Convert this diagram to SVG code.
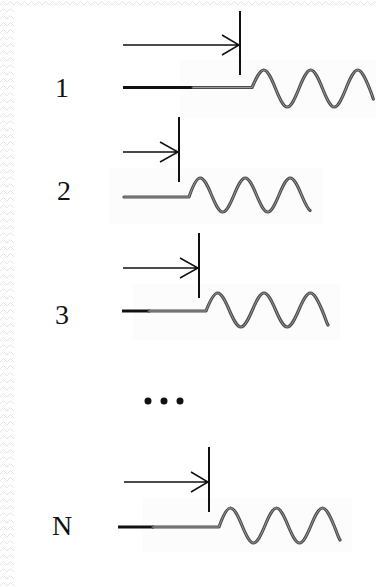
<svg xmlns="http://www.w3.org/2000/svg" width="376" height="587" viewBox="0 0 376 587">
<defs>
<style>
.lbl{font-family:"Liberation Serif","Times New Roman",serif;font-size:28px;fill:#111;text-anchor:middle}
.arr{stroke:#111;stroke-width:1.5;fill:none}
.tick{stroke:#111;stroke-width:2;fill:none}
.blk{stroke:#111;stroke-width:3;fill:none}
.go{stroke:#4d4d4d;stroke-width:3.2;fill:none;stroke-linecap:round;stroke-linejoin:round}
.gi{stroke:#9a9a9a;stroke-width:1;fill:none;stroke-linecap:round;stroke-linejoin:round}
.img{fill:#fcfcfc}
</style>
<pattern id="zz" width="7" height="7" patternUnits="userSpaceOnUse">
<path d="M0 5 L3.5 1.5 L7 5" stroke="#e4e4e4" stroke-width="1" fill="none"/>
</pattern>
<path id="w1" d="M193 87.5 H252 C255.91 78.81 259.84 70 263.75 70 S271.59 78.81 275.5 88.5 S283.34 107 287.25 107 S295.09 98.19 299 88.5 S306.84 70 310.75 70 S318.59 78.81 322.5 88.5 S330.34 107 334.25 107 S342.09 98.19 346 88.5 S353.84 70 357.75 70 S365.59 78.81 369.5 88.5 S372.3 96.5 373.3 99"/>
<path id="w2" d="M124 197 H189 C192.75 186.1 196.5 178 200.25 178 S207.75 186.1 211.5 195 S219 212 222.75 212 S230.25 203.9 234 195 S241.5 178 245.25 178 S252.75 186.1 256.5 195 S264 212 267.75 212 S275.25 203.9 279 195 S286.5 178 290.25 178 S297.75 186.1 301.5 195 S308 209 310 210.5"/>
<path id="w3" d="M149 311 H206 C209.87 301.1 213.73 293 217.6 293 S225.33 301.1 229.2 310 S236.93 327 240.8 327 S248.53 318.9 252.4 310 S260.13 293 264 293 S271.73 301.1 275.6 310 S283.33 327 287.2 327 S294.93 318.9 298.8 310 S306.53 293 310.4 293 S318.13 301.1 322 310 S326.5 323 328 325"/>
<path id="w4" d="M153 527 H219 C222.83 516.34 226.67 508 230.5 508 S238.17 516.34 242 525.5 S249.67 543 253.5 543 S261.17 534.66 265 525.5 S272.67 508 276.5 508 S284.17 516.34 288 525.5 S295.67 543 299.5 543 S307.17 534.66 311 525.5 S318.67 508 322.5 508 S330.17 516.34 334 525.5 S338.5 538 340 540"/>
</defs>
<rect width="376" height="587" fill="#fff"/>
<rect x="0" y="0" width="14" height="587" fill="url(#zz)"/>
<rect x="14" y="0" width="362" height="8" fill="url(#zz)"/>
<rect class="img" x="180" y="60" width="196" height="58"/>
<rect class="img" x="110" y="168" width="212" height="56"/>
<rect class="img" x="133" y="284" width="207" height="56"/>
<rect class="img" x="143" y="498" width="209" height="54"/>

<g id="labels">
<text class="lbl" x="62" y="97">1</text>
<text class="lbl" x="64" y="200">2</text>
<text class="lbl" x="62" y="324">3</text>
<text class="lbl" x="62" y="535">N</text>
</g>

<g id="row1">
<path class="arr" d="M123 45 H239 M222 35 L239 45 L222 55"/>
<path class="tick" d="M240 11 V75"/>
<path class="blk" d="M123 87.5 H194"/>
<use href="#w1" class="go"/>
<use href="#w1" class="gi"/>
</g>

<g id="row2">
<path class="arr" d="M123 152 H178 M160 142 L178 152 L160 162"/>
<path class="tick" d="M179 117 V182"/>
<use href="#w2" class="go"/>
<use href="#w2" class="gi"/>
</g>

<g id="row3">
<path class="arr" d="M123 268 H198 M180 258 L198 268 L180 278"/>
<path class="tick" d="M199 233 V298"/>
<path class="blk" d="M122 311 H150"/>
<use href="#w3" class="go"/>
<use href="#w3" class="gi"/>
</g>

<g id="dots" fill="#111">
<circle cx="148" cy="401" r="3.5"/>
<circle cx="164" cy="401" r="3.5"/>
<circle cx="180" cy="401" r="3.5"/>
</g>

<g id="rowN">
<path class="arr" d="M124 482 H208 M191 472 L208 482 L191 492"/>
<path class="tick" d="M209 447 V512"/>
<path class="blk" d="M118 527 H154"/>
<use href="#w4" class="go"/>
<use href="#w4" class="gi"/>
</g>
</svg>
